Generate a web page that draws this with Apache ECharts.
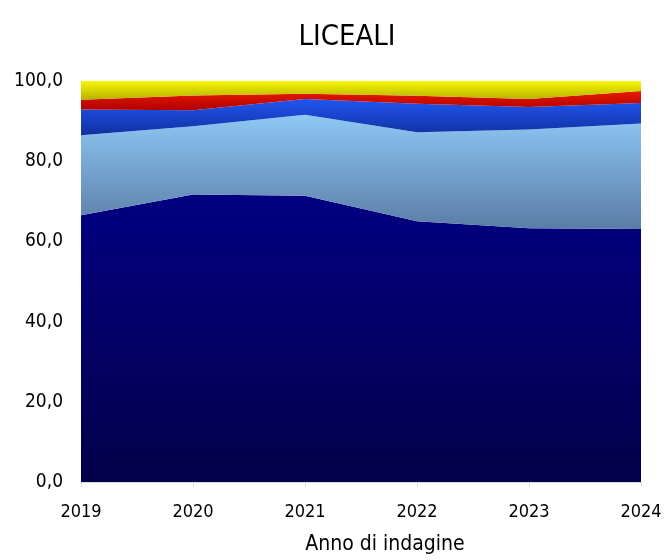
<!DOCTYPE html>
<html>
<head>
<meta charset="utf-8">
<script src="https://cdn.jsdelivr.net/npm/echarts@6/dist/echarts.min.js"></script>
<style>html,body{margin:0;padding:0;background:#fff}#c{width:666px;height:560px}</style>
</head>
<body>
<div id="c"></div>
<script>
var years = ['2019', '2020', '2021', '2022', '2023', '2024'];
var navy = [66.5, 71.7, 71.4, 65.0, 63.3, 63.1];
var lightBlue = [20.0, 17.0, 20.2, 22.2, 24.6, 26.3];
var blue = [6.4, 4.0, 3.9, 7.1, 5.6, 5.1];
var red = [2.4, 3.7, 1.3, 2.0, 2.0, 3.0];
var yellow = [4.7, 3.6, 3.2, 3.7, 4.5, 2.5];
var yTicks = [0, 20, 40, 60, 80, 100];

var FONT = '"DejaVu Sans Condensed", "DejaVu Sans", sans-serif';
function grad(top, bottom) {
  return new echarts.graphic.LinearGradient(0, 0, 0, 1, [
    { offset: 0, color: top }, { offset: 1, color: bottom }
  ]);
}
function layer(name, data, top, bottom) {
  return {
    name: name, type: 'line', stack: 'total', data: data,
    symbol: 'none', smooth: false,
    lineStyle: { width: 0 },
    areaStyle: { color: grad(top, bottom), opacity: 1 },
    emphasis: { disabled: true }
  };
}
var chart = echarts.init(document.getElementById('c'), null, { renderer: 'canvas' });
chart.setOption({
  animation: false,
  backgroundColor: '#ffffff',
  title: {
    text: 'LICEALI', left: 342, textAlign: 'center', top: 18,
    textStyle: { fontFamily: FONT, fontSize: 29, fontWeight: 'normal', color: '#000' }
  },
  grid: { left: 81, right: 25, top: 81, bottom: 73 },
  xAxis: {
    type: 'category', data: years, boundaryGap: false,
    name: 'Anno di indagine', nameLocation: 'middle', nameGap: 52,
    nameTextStyle: { fontFamily: FONT, fontSize: 21, color: '#000', padding: [0, 0, 0, 48] },
    axisLine: { lineStyle: { color: '#d9d9d9', width: 1 } },
    axisTick: { show: true, length: 5, lineStyle: { color: '#d9d9d9' } },
    axisLabel: { fontFamily: FONT, fontSize: 18, color: '#000', margin: 21 }
  },
  yAxis: {
    type: 'value', min: 0, max: 100, interval: 20,
    axisLine: { show: true, lineStyle: { color: '#d9d9d9' } },
    axisTick: { show: false },
    splitLine: { show: false },
    axisLabel: {
      fontFamily: FONT, fontSize: 19, color: '#000', margin: 18,
      formatter: function (v) { return yTicks.indexOf(v) >= 0 ? v.toFixed(1).replace('.', ',') : ''; }
    }
  },
  series: [
    layer('A', navy, '#020082', '#04004a'),
    layer('B', lightBlue, '#8ec8f5', '#5a7ca6'),
    layer('C', blue, '#2056f2', '#1030a0'),
    layer('D', red, '#ea1a00', '#b00000'),
    layer('E', yellow, '#f8f800', '#b4b000')
  ]
});
</script>
</body>
</html>
